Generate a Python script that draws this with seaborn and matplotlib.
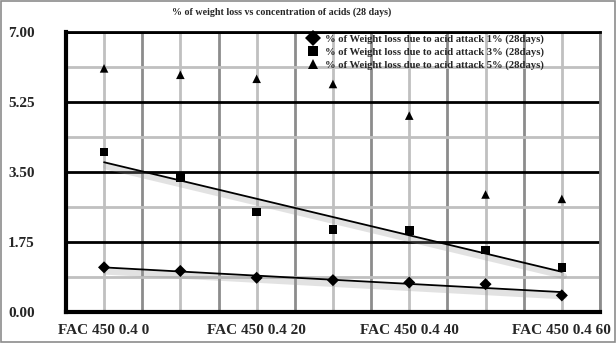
# %%
import numpy as np
import pandas as pd
import matplotlib.pyplot as plt
import matplotlib.patheffects as pe
from matplotlib.patches import Rectangle
from matplotlib.ticker import FixedLocator, FixedFormatter
import seaborn as sns

# %% dados
categorias = ['FAC 450 0.4 0', 'FAC 450 0.4 10', 'FAC 450 0.4 20', 'FAC 450 0.4 30',
              'FAC 450 0.4 40', 'FAC 450 0.4 50', 'FAC 450 0.4 60']
perda_1 = [1.11, 1.02, 0.85, 0.79, 0.73, 0.69, 0.41]
perda_3 = [3.99, 3.36, 2.49, 2.06, 2.03, 1.54, 1.10]
perda_5 = [6.08, 5.92, 5.82, 5.69, 4.90, 2.93, 2.82]
nomes_series = ['% of Weight loss due to acid attack 1% (28days)',
                '% of Weight loss due to acid attack 3% (28days)',
                '% of Weight loss due to acid attack 5% (28days)']
y_ticks = [0.0, 1.75, 3.50, 5.25, 7.00]
titulo = '% of weight loss vs concentration of acids (28 days)'

# %% tabela longa para o seaborn
pos = np.arange(len(categorias))
df = pd.concat([
    pd.DataFrame({'pos': pos, 'categoria': categorias, 'perda': vals, 'serie': nome})
    for vals, nome in zip([perda_1, perda_3, perda_5], nomes_series)
], ignore_index=True)

# %%
sns.set_style('white')
plt.rcParams['font.family'] = ['Liberation Serif', 'DejaVu Serif']
plt.rcParams['font.weight'] = 'bold'

fig = plt.figure(figsize=(6.16, 3.43), dpi=100)
ax = fig.add_axes([0.107, 0.091, 0.867, 0.817])

sombra = [pe.SimpleLineShadow(offset=(1.5, -3), shadow_color='0.6', alpha=0.28, linewidth=4.5),
          pe.Normal()]
for nome in nomes_series[:2]:
    sns.regplot(data=df[df['serie'] == nome], x='pos', y='perda', scatter=False, ci=None,
                color='black', line_kws={'linewidth': 1.3, 'path_effects': sombra}, ax=ax)

sns.scatterplot(data=df, x='pos', y='perda', style='serie', hue='serie',
                markers=['D', 's', '^'], palette=['black'] * 3, s=38,
                edgecolor='black', linewidth=0, ax=ax, zorder=5)

# eixos
ax.set_xlim(-0.5, len(categorias) - 0.5)
ax.set_ylim(0, 7)
ax.set_xlabel('')
ax.set_ylabel('')

ax.xaxis.set_major_locator(FixedLocator(np.arange(-0.5, len(categorias), 1)))
ax.xaxis.set_major_formatter(FixedFormatter([''] * (len(categorias) + 1)))
ax.xaxis.set_minor_locator(FixedLocator(pos))
ax.xaxis.set_minor_formatter(FixedFormatter([c if i % 2 == 0 else '' for i, c in enumerate(categorias)]))
ax.set_yticks(y_ticks)
ax.set_yticklabels([f'{v:.2f}' for v in y_ticks])
ax.yaxis.set_minor_locator(FixedLocator(np.arange(0.875, 7, 1.75)))

ax.tick_params(axis='x', which='major', direction='out', length=6, width=2.5, color='black')
ax.tick_params(axis='x', which='minor', length=0, pad=9, labelsize=11)
ax.tick_params(axis='y', which='major', direction='inout', length=9, width=2.5,
               color='black', pad=18, labelsize=11)
ax.tick_params(axis='y', which='minor', length=0)
for t in ax.get_xticklabels(minor=True) + ax.get_yticklabels():
    t.set_fontweight('bold')

ax.set_axisbelow(True)
ax.grid(axis='y', which='major', color='black', linewidth=2)
ax.grid(axis='y', which='minor', color='#c0c0c0', linewidth=2)
ax.grid(axis='x', which='major', color='#8c8c8c', linewidth=2)
ax.grid(axis='x', which='minor', color='#c0c0c0', linewidth=2)

for lado in ['left', 'bottom']:
    ax.spines[lado].set_color('black')
    ax.spines[lado].set_linewidth(3)
ax.spines['top'].set_color('black')
ax.spines['top'].set_linewidth(2)
ax.spines['right'].set_color('#8c8c8c')
ax.spines['right'].set_linewidth(2)

# legenda
leg = ax.legend(loc='upper left', bbox_to_anchor=(0.445, 1.005), frameon=False,
                fontsize=7.7, labelspacing=0.3, handletextpad=0.6, borderaxespad=0,
                handlelength=1.0, markerscale=1.25)
for t in leg.get_texts():
    t.set_fontweight('bold')

fig.text(282 / 616, 1 - 12 / 343, titulo, ha='center', va='center', fontsize=7.2, fontweight='bold')

# borda cinza da figura
fig.patches.append(Rectangle((0.002, 0.003), 0.996, 0.994, transform=fig.transFigure,
                             fill=False, edgecolor='#8c8c8c', linewidth=1.2))

fig.savefig('out.png', dpi=100)
